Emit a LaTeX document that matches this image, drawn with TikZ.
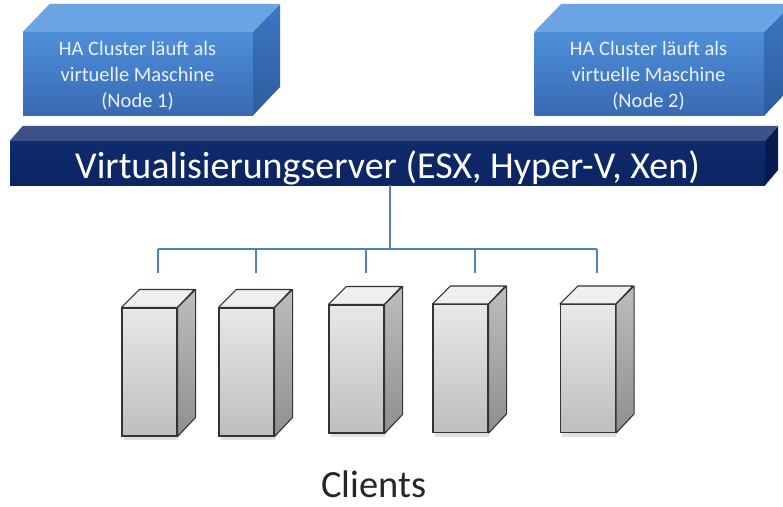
\documentclass[tikz,border=0pt]{standalone}
\usepackage{fontspec}
\setmainfont{Carlito}
\usetikzlibrary{calc}
\definecolor{vmfronttop}{HTML}{4F8FDA}
\definecolor{vmfrontbot}{HTML}{386AB2}
\definecolor{vmtop}{HTML}{6BA3E3}
\definecolor{vmsidetop}{HTML}{3C77C2}
\definecolor{vmsidebot}{HTML}{2E5C9E}
\definecolor{barfront}{HTML}{0B2462}
\definecolor{barfronttop}{HTML}{102C6C}
\definecolor{bartop}{HTML}{3B5188}
\definecolor{barside}{HTML}{081B50}
\definecolor{clfronttop}{HTML}{E8E8E8}
\definecolor{clfrontbot}{HTML}{BEBEBE}
\definecolor{cltop}{HTML}{EFEFEF}
\definecolor{clsidetop}{HTML}{BDBDBD}
\definecolor{clsidebot}{HTML}{8F8F8F}
\definecolor{linkblue}{HTML}{4F81BD}
\begin{document}
\begin{tikzpicture}[x=1pt,y=-1pt,
  vmfront/.style={rectangle, inner sep=0pt, minimum width=230pt, minimum height=83pt,
    top color=vmfronttop, bottom color=vmfrontbot, draw=none},
  vmtext/.style={inner sep=0pt, text=white!88!vmfronttop, align=center,
    font=\fontsize{20.5}{26}\selectfont},
  vmtopface/.style={fill=vmtop},
  vmsideface/.style={top color=vmsidetop, bottom color=vmsidebot},
  barfrontstyle/.style={rectangle, inner sep=0pt, minimum width=755pt, minimum height=44pt,
    top color=barfronttop, bottom color=barfront, draw=none},
  bartextstyle/.style={inner sep=0pt, anchor=base, text=white, font=\fontsize{38}{42}\selectfont},
  clfront/.style={rectangle, inner sep=0pt, minimum width=55pt, minimum height=128pt,
    top color=clfronttop, bottom color=clfrontbot, draw=black!80, line width=1.1pt},
  cltopface/.style={fill=cltop, draw=black!80, line width=1.1pt, line join=round},
  clsideface/.style={top color=clsidetop, bottom color=clsidebot, draw=black!80, line width=1.1pt, line join=round},
  shadowstyle/.style={fill=black, opacity=0.12},
  link/.style={draw=linkblue, line width=1.2pt},
  label/.style={inner sep=0pt, anchor=base, font=\fontsize{38.5}{42}\selectfont, text=black!85}
]
\clip (0,0) rectangle (783,506);
\fill[white] (0,0) rectangle (783,506);

% --- VM node 1 ---
\node[vmfront] (vm1) at (138,73.5) {};
\path[vmtopface] (vm1.north west) -- ++(27,-28) -- ++(230,0) -- (vm1.north east) -- cycle;
\shade[vmsideface] (vm1.north east) -- ++(27,-28) -- ++(0,83) -- (vm1.south east) -- cycle;
\node[vmtext] (vm1text) at (137.5,76) {HA Cluster läuft als\\virtuelle Maschine\\(Node 1)};

% --- VM node 2 ---
\node[vmfront] (vm2) at (649.5,73.5) {};
\path[vmtopface] (vm2.north west) -- ++(27,-28) -- ++(230,0) -- (vm2.north east) -- cycle;
\shade[vmsideface] (vm2.north east) -- ++(27,-28) -- ++(0,83) -- (vm2.south east) -- cycle;
\node[vmtext] (vm2text) at (648.5,76) {HA Cluster läuft als\\virtuelle Maschine\\(Node 2)};

% --- Virtualisation server bar ---
\node[barfrontstyle] (bar) at (387.5,163) {};
\fill[bartop] (bar.north west) -- ++(13,-15) -- ++(755,0) -- (bar.north east) -- cycle;
\fill[barside] (bar.north east) -- ++(13,-15) -- ++(0,44) -- (bar.south east) -- cycle;
\node[bartextstyle] (bartext) at (387.5,178) {Virtualisierungserver (ESX, Hyper-V, Xen)};

% --- client boxes ---
\foreach \n/\cx/\cy in {1/149.5/372, 2/246.5/372, 3/356.5/369, 4/460.5/368.5, 5/588/368.5}{
  \fill[shadowstyle] ($(\cx,\cy)+(-26,64)$) rectangle ++(54,4);
  \node[clfront] (c\n) at (\cx,\cy) {};
  \path[cltopface] (c\n.north west) -- ++(18,-18) -- ++(55,0) -- (c\n.north east) -- cycle;
  \shade[clsideface] (c\n.north east) -- ++(18,-18) -- ++(0,128) -- (c\n.south east) -- cycle;
}

% --- connectors ---
\coordinate (j) at (390,249);
\coordinate (t1) at (158,273);
\coordinate (t2) at (256,273);
\coordinate (t3) at (366,273);
\coordinate (t4) at (475,273);
\coordinate (t5) at (597,273);
\draw[link] (bar.south -| j) -- (j);
\draw[link] (t1 |- j) -- (t5 |- j);
\foreach \n in {1,...,5}{
  \draw[link] (t\n |- j) -- (t\n);
}

\node[label] (clients) at (374,497) {Clients};
\end{tikzpicture}
\end{document}
